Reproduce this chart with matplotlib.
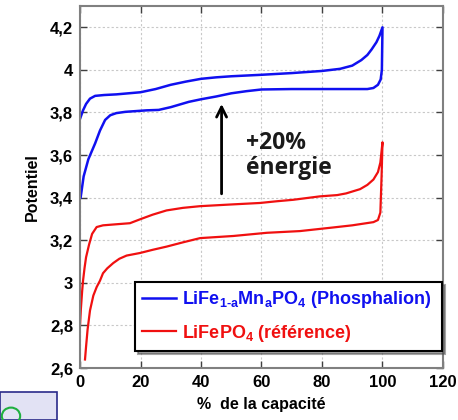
import matplotlib
matplotlib.use("Agg")
import matplotlib.pyplot as plt
from matplotlib.patches import Rectangle, Circle
from matplotlib.ticker import FuncFormatter, MultipleLocator

# Phosphalion (LiFe1-aMnaPO4): charge then discharge
mn_charge_x = [0, 0.5, 1, 2, 3.3, 5, 8, 12, 20, 25, 30, 35, 40, 45, 50, 60, 70, 80, 86, 90,
               93, 95, 96.4, 98, 99, 100]
mn_charge_y = [3.77, 3.79, 3.81, 3.84, 3.865, 3.878, 3.882, 3.885, 3.895, 3.91, 3.93, 3.945,
               3.958, 3.965, 3.97, 3.977, 3.985, 3.995, 4.005, 4.02, 4.046, 4.07, 4.096, 4.13,
               4.16, 4.2]
mn_dis_x = [100, 99.8, 99.4, 98.5, 97, 95, 90, 80, 70, 60, 55, 50, 45, 40, 36, 30, 26, 22, 18,
            15, 12, 10, 8.3, 6.6, 5, 2.75, 1.2, 0.2]
mn_dis_y = [4.2, 4.0, 3.955, 3.93, 3.915, 3.91, 3.91, 3.91, 3.91, 3.908, 3.90, 3.89, 3.875,
            3.862, 3.85, 3.825, 3.812, 3.81, 3.806, 3.803, 3.797, 3.787, 3.765, 3.715, 3.655,
            3.58, 3.50, 3.40]

# LiFePO4 reference: charge then discharge
fe_charge_x = [0, 0.3, 0.7, 1, 1.5, 2, 3, 4, 5.5, 7.6, 12, 16.5, 19.8, 24, 28.6, 34, 39.7, 50,
               59.5, 65, 70.5, 79.3, 85, 88, 92.6, 95, 97, 98.5, 99.3, 100]
fe_charge_y = [2.80, 2.88, 2.96, 3.01, 3.07, 3.12, 3.18, 3.23, 3.262, 3.27, 3.275, 3.28, 3.298,
               3.32, 3.34, 3.352, 3.36, 3.368, 3.375, 3.383, 3.39, 3.406, 3.412, 3.42, 3.44,
               3.46, 3.485, 3.52, 3.565, 3.66]
fe_dis_x = [100, 99.7, 99.3, 98.5, 97, 90, 83.7, 72.7, 61.8, 50.7, 39.7, 34, 28.6, 24, 19.8,
            15.4, 13, 11, 9, 7.6, 6.6, 5.5, 4.4, 3.3, 2.5, 2, 1.65]
fe_dis_y = [3.66, 3.50, 3.33, 3.295, 3.285, 3.27, 3.26, 3.243, 3.235, 3.22, 3.21, 3.19, 3.17,
            3.155, 3.14, 3.128, 3.113, 3.093, 3.068, 3.045, 3.01, 2.98, 2.94, 2.87, 2.78, 2.70,
            2.64]

mn_label = r"LiFe$_{\mathregular{1\text{-}a}}$Mn$_{\mathregular{a}}$PO$_{\mathregular{4}}$ (Phosphalion)"
fe_label = r"LiFePO$_{\mathregular{4}}$ (référence)"

arrow_x = 46.8
arrow_from, arrow_to = 3.405, 3.853
gain_text = "+20%\nénergie"

plt.rcParams["font.family"] = ["Liberation Sans", "DejaVu Sans"]
plt.rcParams["font.weight"] = "bold"
plt.rcParams["mathtext.fontset"] = "custom"
plt.rcParams["mathtext.rm"] = "Liberation Sans:bold"
plt.rcParams["mathtext.bf"] = "Liberation Sans:bold"
plt.rcParams["mathtext.it"] = "Liberation Sans:bold"

fig = plt.figure(figsize=(4.58, 4.20), dpi=100)
ax = fig.add_axes([0.1747, 0.1238, 0.7925, 0.8619])

ax.plot(mn_charge_x + mn_dis_x, mn_charge_y + mn_dis_y, color="#1010f0", lw=1.8, label=mn_label)
ax.plot(fe_charge_x + fe_dis_x, fe_charge_y + fe_dis_y, color="#f01010", lw=1.6, label=fe_label)

ax.set_xlim(0, 120)
ax.set_ylim(2.6, 4.3)
ax.xaxis.set_major_locator(MultipleLocator(20))
ax.yaxis.set_major_locator(MultipleLocator(0.2))
ax.yaxis.set_major_formatter(FuncFormatter(lambda v, p: f"{v:g}".replace(".", ",")))
ax.grid(True, color="#c8c8c8", linestyle=(0, (2, 2)), lw=0.8)
ax.tick_params(direction="in", top=True, right=True, length=5, width=1, color="#404040",
               labelsize=12, pad=5)
for lbl in ax.get_xticklabels() + ax.get_yticklabels():
    lbl.set_fontweight("bold")
for s in ax.spines.values():
    s.set_color("#808080")
    s.set_linewidth(1.5)

ax.set_xlabel("%  de la capacité", fontsize=11.5, fontweight="bold", labelpad=5)
ax.set_ylabel("Potentiel", fontsize=11.5, fontweight="bold", labelpad=7)

ax.annotate("", xy=(arrow_x, arrow_to), xytext=(arrow_x, arrow_from),
            arrowprops=dict(arrowstyle="->", color="black", lw=2, mutation_scale=18))
ax.text(54.9, 3.598, gain_text, fontsize=16.5, fontweight="bold",
        family=["Open Sans", "DejaVu Sans"],
        ha="left", va="center", linespacing=1.1, color="#1a1a1a")

leg = ax.legend(loc="lower left", bbox_to_anchor=(0.151, 0.047, 0.846, 0.2), mode="expand",
                fontsize=13, handlelength=1.9, handletextpad=0.3, borderpad=0.4,
                labelspacing=0.7, fancybox=False, shadow=True, labelcolor="linecolor",
                borderaxespad=0)
leg.get_frame().set_edgecolor("black")
leg.get_frame().set_linewidth(1.5)

# slide decoration in the lower-left corner
fig.patches.append(Rectangle((0, 0), 57 / 458, 28 / 420, transform=fig.transFigure,
                             facecolor="#e2e2f4", edgecolor="#2a2a8a", lw=1.2))
fig.patches.append(Circle((11 / 458, 4 / 420), 0.02, transform=fig.transFigure,
                          facecolor="none", edgecolor="#20b040", lw=1.5))

fig.savefig("out.png", dpi=100)
